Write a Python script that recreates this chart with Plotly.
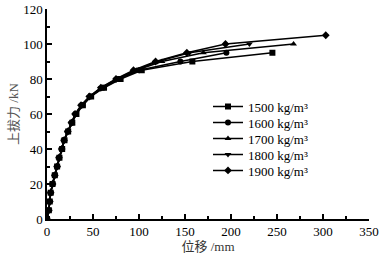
import plotly.graph_objects as go

# Data (displacement mm, uplift force kN)
force_common = [0, 5, 10, 15, 20, 25, 30, 35, 40, 45, 50, 55, 60, 65, 70, 75]

disp_1500 = [0, 2, 3, 4, 6, 8.5, 11, 13.5, 16.5, 19, 23, 27.5, 32, 39, 48, 62, 80, 103, 158, 245]
force_1500 = force_common + [80, 85, 90, 95]

disp_1600 = [0, 2, 3, 4, 6, 8.5, 11, 13, 16, 18.5, 23, 27, 31.5, 38.5, 47, 61, 78, 100, 145, 195]
force_1600 = force_common + [80, 85, 90, 95]

disp_1700 = [0, 2, 3, 4, 6, 8.5, 11, 13, 16, 18.5, 22.5, 27, 31, 38, 47, 60, 77, 97, 125, 170, 268]
force_1700 = force_common + [80, 85, 90, 95, 100]

disp_1800 = [0, 2, 3, 4, 6, 8.5, 11, 13, 16, 18.5, 22.5, 26.5, 31, 37.5, 46.5, 59, 76, 96, 120, 155, 220]
force_1800 = force_common + [80, 85, 90, 95, 100]

disp_1900 = [0, 2, 3, 4, 6, 8.5, 11, 13, 16, 18.5, 22.5, 26.5, 30.5, 37, 46, 58.5, 75, 94, 118, 152, 194, 303]
force_1900 = force_common + [80, 85, 90, 95, 100, 105]

series_names = ["1500 kg/m³", "1600 kg/m³", "1700 kg/m³", "1800 kg/m³", "1900 kg/m³"]
series_x = [disp_1500, disp_1600, disp_1700, disp_1800, disp_1900]
series_y = [force_1500, force_1600, force_1700, force_1800, force_1900]
symbols = ["square", "circle", "triangle-up", "triangle-down", "diamond"]

x_title = "位移 /mm"
y_title = "上拔力 /kN"

font_fam = '"Liberation Serif", "Times New Roman", "Noto Sans CJK SC", serif'

fig = go.Figure()
legend_layout = {}
for i, (name, xs, ys, sym) in enumerate(zip(series_names, series_x, series_y, symbols)):
    key = "legend" if i == 0 else f"legend{i + 1}"
    fig.add_trace(go.Scatter(
        x=xs, y=ys, name=name, mode="lines+markers",
        line=dict(color="black", width=1.5),
        marker=dict(symbol=sym, size=6, color="black"),
        legend=key,
    ))
    row_px = 106.5 + 16 * i
    legend_layout[key] = dict(
        x=0.5, y=(219 - row_px) / 210, xanchor="left", yanchor="middle",
        font=dict(family=font_fam, size=13, color="black"),
        bgcolor="rgba(0,0,0,0)", itemwidth=30,
    )

fig.update_layout(
    width=382, height=258,
    margin=dict(l=47, r=13, t=9, b=39, autoexpand=False),
    paper_bgcolor="white", plot_bgcolor="white",
    font=dict(family=font_fam, size=13, color="black"),
    showlegend=True,
    **legend_layout,
)
fig.update_xaxes(
    range=[0, 350], dtick=50, tick0=0, automargin=False,
    showline=True, linecolor="black", linewidth=1.5,
    ticks="inside", ticklen=5, tickwidth=1.5, tickcolor="black",
    minor=dict(ticks="inside", ticklen=3, dtick=25, tickwidth=1.5, tickcolor="black"),
    showgrid=False, zeroline=False,
    title=dict(text=x_title, font=dict(size=13, color="#333"), standoff=2),
)
fig.update_yaxes(
    range=[0, 120], dtick=20, tick0=0, automargin=False,
    showline=True, linecolor="black", linewidth=1.5,
    ticks="inside", ticklen=5, tickwidth=1.5, tickcolor="black",
    minor=dict(ticks="inside", ticklen=3, dtick=10, tickwidth=1.5, tickcolor="black"),
    showgrid=False, zeroline=False,
    title=dict(text=y_title, font=dict(size=13, color="#555"), standoff=2),
)

fig.write_html("out.html", config={"displayModeBar": False},
               post_script="document.body.style.margin='0';document.body.style.overflow='hidden';")
